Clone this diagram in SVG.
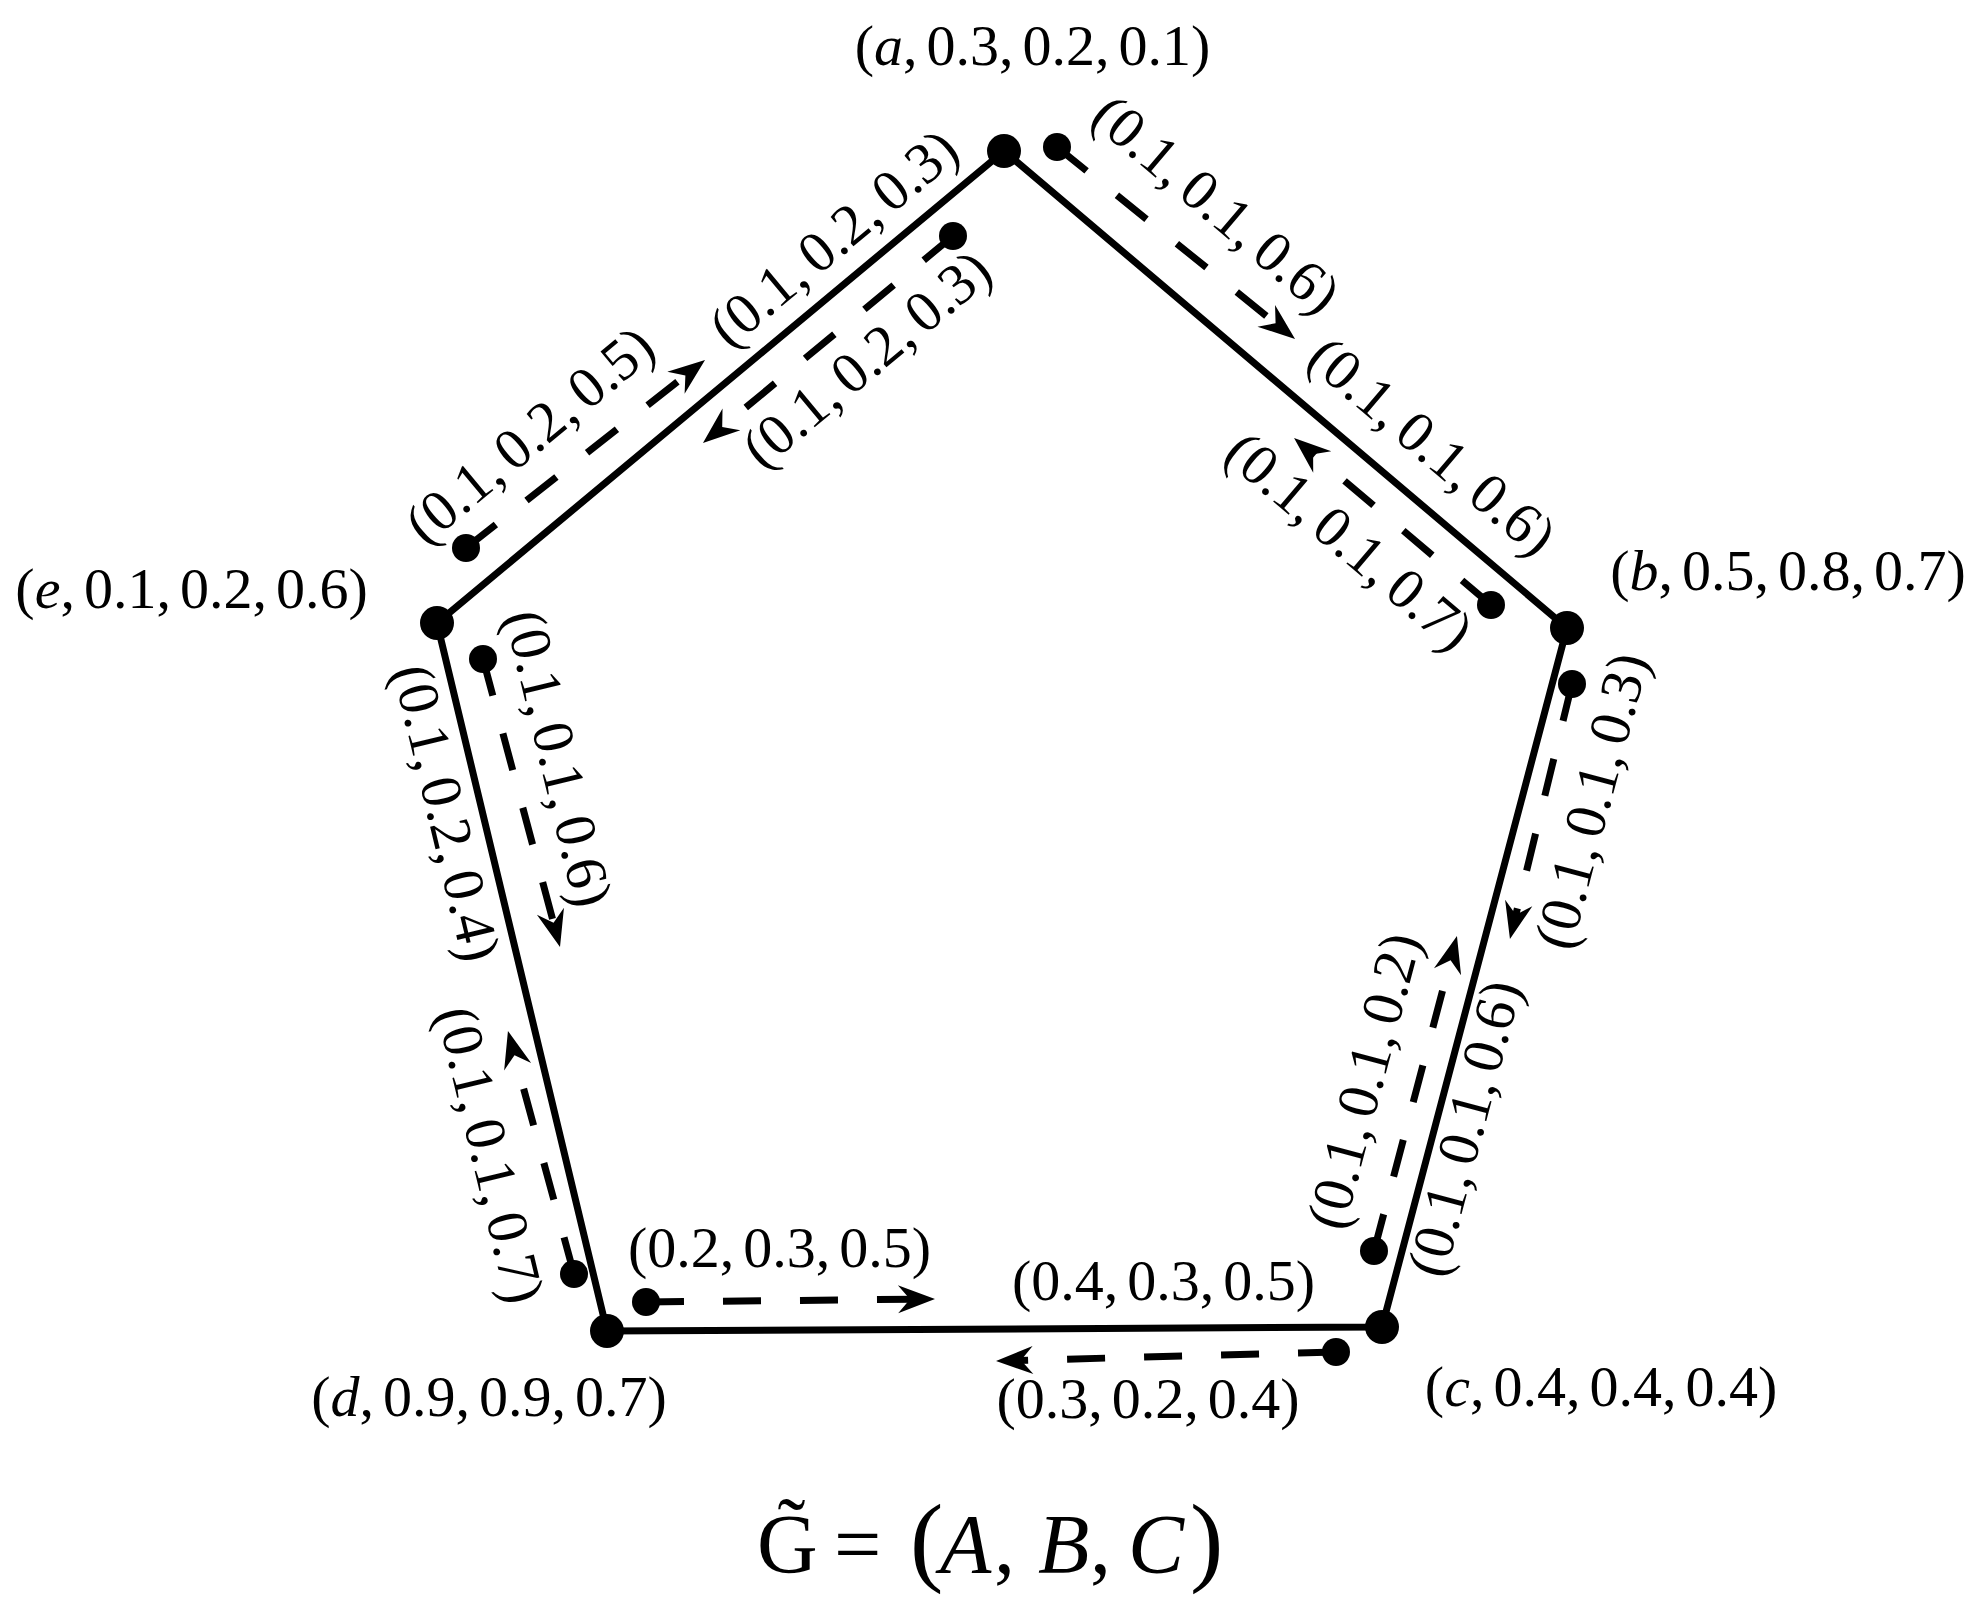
<svg xmlns="http://www.w3.org/2000/svg" width="1985" height="1611" viewBox="0 0 1985 1611">
<defs>
<style>
.edge{stroke:#000;stroke-width:7;fill:none;stroke-linejoin:miter}
.dash{stroke:#000;stroke-width:7;fill:none;stroke-dasharray:38 39;marker-end:url(#arr)}
.vtx{fill:#000}
.sdot{fill:#000}
.lbl{font-family:"Liberation Serif","Times New Roman",serif;font-size:58px;fill:#000}
.title{font-family:"Liberation Serif","Times New Roman",serif;font-size:84px;fill:#000}
.it{font-style:italic}
</style>
<marker id="arr" markerUnits="userSpaceOnUse" markerWidth="50" markerHeight="50" refX="0" refY="0" orient="auto" overflow="visible" viewBox="-25 -25 50 50">
<path d="M12,0 L-25,-14 L-13,0 L-25,14 Z" fill="#000"/>
</marker>
</defs>
<rect width="1985" height="1611" fill="#fff"/>

<g id="connectors">
<polygon class="edge" points="1004,151 1567,628 1382,1327 607,1331 437,623"/>
<circle class="sdot" cx="1057" cy="147" r="14"/>
<path class="dash" d="M1057,147 L1285.7,331.5"/>
<circle class="sdot" cx="1491" cy="605" r="14"/>
<path class="dash" d="M1491,605 L1303.2,445.8"/>
<circle class="sdot" cx="953" cy="236" r="14"/>
<path class="dash" d="M953,236 L712.2,435.3"/>
<circle class="sdot" cx="466" cy="548" r="14"/>
<path class="dash" d="M466,548 L695.6,367.4"/>
<circle class="sdot" cx="483" cy="659" r="14"/>
<path class="dash" d="M483,659 L556.9,935.4"/>
<circle class="sdot" cx="574" cy="1274" r="14"/>
<path class="dash" d="M574,1274 L511.1,1042.6"/>
<circle class="sdot" cx="646" cy="1302" r="14"/>
<path class="dash" d="M646,1302 L923,1299.1"/>
<circle class="sdot" cx="1336" cy="1352" r="14"/>
<path class="dash" d="M1336,1352 L1008,1360.7"/>
<circle class="sdot" cx="1374" cy="1251" r="14"/>
<path class="dash" d="M1374,1251 L1453.9,947.6"/>
<circle class="sdot" cx="1572" cy="684" r="14"/>
<path class="dash" d="M1572,684 L1512.8,927.3"/>

<text class="lbl" transform="translate(837,242) rotate(-39.8)" y="14" text-anchor="middle">(0.1,<tspan dx="9">0.2,</tspan><tspan dx="9">0.3)</tspan></text>
<text class="lbl" transform="translate(870,363) rotate(-39.8)" y="14" text-anchor="middle">(0.1,<tspan dx="9">0.2,</tspan><tspan dx="9">0.3)</tspan></text>
<text class="lbl" transform="translate(533,439) rotate(-39.8)" y="14" text-anchor="middle">(0.1,<tspan dx="9">0.2,</tspan><tspan dx="9">0.5)</tspan></text>
<text class="lbl" transform="translate(1213,208) rotate(40.3)" y="14" text-anchor="middle">(0.1,<tspan dx="9">0.1,</tspan><tspan dx="9">0.6)</tspan></text>
<text class="lbl" transform="translate(1429,450) rotate(40.3)" y="14" text-anchor="middle">(0.1,<tspan dx="9">0.1,</tspan><tspan dx="9">0.6)</tspan></text>
<text class="lbl" transform="translate(1346,545) rotate(40.3)" y="14" text-anchor="middle">(0.1,<tspan dx="9">0.1,</tspan><tspan dx="9">0.7)</tspan></text>
<text class="lbl" transform="translate(1596.5,802) rotate(-75.2)" y="14" text-anchor="middle">(0.1,<tspan dx="9">0.1,</tspan><tspan dx="9">0.3)</tspan></text>
<text class="lbl" transform="translate(1469.5,1129.5) rotate(-75.2)" y="14" text-anchor="middle">(0.1,<tspan dx="9">0.1,</tspan><tspan dx="9">0.6)</tspan></text>
<text class="lbl" transform="translate(1369,1082) rotate(-75.2)" y="14" text-anchor="middle">(0.1,<tspan dx="9">0.1,</tspan><tspan dx="9">0.2)</tspan></text>
<text class="lbl" transform="translate(441.5,814) rotate(76.5)" y="14" text-anchor="middle">(0.1,<tspan dx="9">0.2,</tspan><tspan dx="9">0.4)</tspan></text>
<text class="lbl" transform="translate(553.5,759.5) rotate(76.5)" y="14" text-anchor="middle">(0.1,<tspan dx="9">0.1,</tspan><tspan dx="9">0.6)</tspan></text>
<text class="lbl" transform="translate(485.5,1156) rotate(76.5)" y="14" text-anchor="middle">(0.1,<tspan dx="9">0.1,</tspan><tspan dx="9">0.7)</tspan></text>
<text class="lbl" x="779.5" y="1267" text-anchor="middle">(0.2,<tspan dx="9">0.3,</tspan><tspan dx="9">0.5)</tspan></text>
<text class="lbl" x="1163.5" y="1300" text-anchor="middle">(0.4,<tspan dx="9">0.3,</tspan><tspan dx="9">0.5)</tspan></text>
<text class="lbl" x="1148" y="1418" text-anchor="middle">(0.3,<tspan dx="9">0.2,</tspan><tspan dx="9">0.4)</tspan></text>
</g>

<g id="node-a">
<circle class="vtx" cx="1004" cy="151" r="17"/>
<text class="lbl" x="1032.5" y="65" text-anchor="middle">(<tspan class="it">a</tspan>,<tspan dx="9">0.3,</tspan><tspan dx="9">0.2,</tspan><tspan dx="9">0.1)</tspan></text>
</g>
<g id="node-b">
<circle class="vtx" cx="1567" cy="628" r="17"/>
<text class="lbl" x="1788" y="590" text-anchor="middle">(<tspan class="it">b</tspan>,<tspan dx="9">0.5,</tspan><tspan dx="9">0.8,</tspan><tspan dx="9">0.7)</tspan></text>
</g>
<g id="node-c">
<circle class="vtx" cx="1382" cy="1327" r="17"/>
<text class="lbl" x="1601" y="1406" text-anchor="middle">(<tspan class="it">c</tspan>,<tspan dx="9">0.4,</tspan><tspan dx="9">0.4,</tspan><tspan dx="9">0.4)</tspan></text>
</g>
<g id="node-d">
<circle class="vtx" cx="607" cy="1331" r="17"/>
<text class="lbl" x="489" y="1416" text-anchor="middle">(<tspan class="it">d</tspan>,<tspan dx="9">0.9,</tspan><tspan dx="9">0.9,</tspan><tspan dx="9">0.7)</tspan></text>
</g>
<g id="node-e">
<circle class="vtx" cx="437" cy="623" r="17"/>
<text class="lbl" x="191.5" y="608" text-anchor="middle">(<tspan class="it">e</tspan>,<tspan dx="9">0.1,</tspan><tspan dx="9">0.2,</tspan><tspan dx="9">0.6)</tspan></text>
</g>

<g id="title">
<text class="title" y="1573"><tspan x="757">G&#x303;</tspan><tspan x="834">=</tspan><tspan x="910" font-size="100">(</tspan><tspan x="940" class="it">A</tspan><tspan x="994">,</tspan><tspan x="1038" class="it">B</tspan><tspan x="1090">,</tspan><tspan x="1128" class="it">C</tspan><tspan x="1190" font-size="100">)</tspan></text>
</g>
</svg>
